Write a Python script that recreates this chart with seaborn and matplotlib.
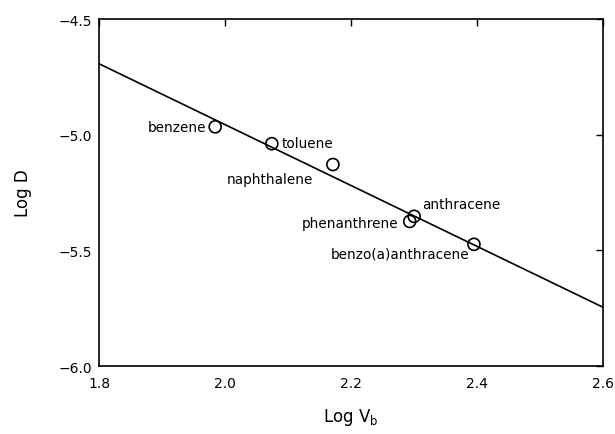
import matplotlib
matplotlib.use("Agg")
import matplotlib.pyplot as plt
import seaborn as sns
import numpy as np
import pandas as pd

# Data
compounds = ["benzene", "toluene", "naphthalene", "phenanthrene", "anthracene", "benzo(a)anthracene"]
log_vb = [1.984, 2.074, 2.171, 2.293, 2.300, 2.395]
log_d = [-4.966, -5.039, -5.129, -5.375, -5.353, -5.474]

fit_slope = -1.315
fit_intercept = -2.327
fit_x = [1.8, 2.6]

x_ticks = [1.8, 2.0, 2.2, 2.4, 2.6]
y_ticks = [-6.0, -5.5, -5.0, -4.5]

sns.set_theme(style="white")
plt.rcParams["font.family"] = ["DejaVu Sans"]
plt.rcParams["axes.unicode_minus"] = True

fig = plt.figure(figsize=(6.15, 4.35), dpi=100)
ax = fig.add_axes([0.1615, 0.1563, 0.819, 0.7977])

df = pd.DataFrame({"x": log_vb, "y": log_d, "name": compounds})
fit_df = pd.DataFrame({"x": fit_x, "y": [fit_intercept + fit_slope * v for v in fit_x]})

sns.lineplot(data=fit_df, x="x", y="y", ax=ax, color="black", linewidth=1.2)
sns.scatterplot(data=df, x="x", y="y", ax=ax, marker="o", s=75,
                facecolor="none", edgecolor="black", linewidth=1.2, zorder=3)

# label offsets in pixels (layout only)
offsets = {
    "benzene": (-9, 0, "right"),
    "toluene": (10, 1, "left"),
    "naphthalene": (-20, -14, "right"),
    "phenanthrene": (-11, -2, "right"),
    "anthracene": (8, 12, "left"),
    "benzo(a)anthracene": (-5, -9, "right"),
}
for name, xv, yv in zip(compounds, log_vb, log_d):
    dx, dy, ha = offsets[name]
    ax.annotate(name, (xv, yv), xytext=(dx, dy), textcoords="offset pixels",
                ha=ha, va="center", fontsize=9.8, color="black")

ax.set_xlim(1.8, 2.6)
ax.set_ylim(-6.0, -4.5)
ax.set_xticks(x_ticks)
ax.set_yticks(y_ticks)
ax.set_xticklabels([f"{t:.1f}" for t in x_ticks])
ax.set_yticklabels([f"{t:.1f}".replace("-", "\u2212") for t in y_ticks])
ax.tick_params(direction="in", length=5, width=1, top=True, right=True,
               labeltop=False, labelright=False, labelsize=10, colors="black", pad=5)
ax.tick_params(axis="x", pad=7)
for sp in ax.spines.values():
    sp.set_color("black")
    sp.set_linewidth(1.2)

ax.set_xlabel(r"Log V$_\mathrm{b}$", fontsize=12, labelpad=12, color="black")
ax.set_ylabel("Log D", fontsize=12, labelpad=19, color="black")

fig.savefig("out.png", dpi=100)
